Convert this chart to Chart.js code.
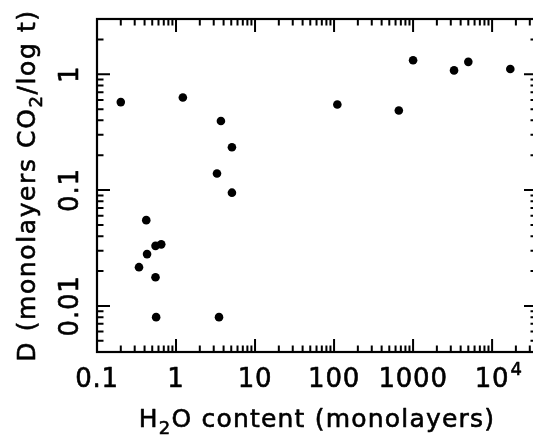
<!DOCTYPE html>
<html>
<head>
<meta charset="utf-8">
<script src="https://cdn.jsdelivr.net/npm/chart.js@4/dist/chart.umd.min.js"></script>
<style>
html,body{margin:0;padding:0;background:#fff;overflow:hidden;width:533px;height:436px;}
#wrap{position:absolute;left:0;top:0;width:560px;height:436px;}
</style>
</head>
<body>
<div id="wrap"><canvas id="c" width="560" height="436"></canvas></div>
<script>
// H2O content (monolayers)
const h2oContent = [0.2, 1.22, 3.7, 5.1, 3.3, 5.1, 0.42, 0.55, 0.65, 0.43, 0.34, 0.55, 0.56, 3.5, 110, 660, 1000, 3300, 5000, 17000];
// D (monolayers CO2 / log t)
const dValues = [0.575, 0.63, 0.395, 0.234, 0.139, 0.095, 0.055, 0.033, 0.034, 0.028, 0.0216, 0.0177, 0.008, 0.008, 0.548, 0.487, 1.32, 1.08, 1.28, 1.11];

const xTickValues = [0.1, 1, 10, 100, 1000, 10000];
const xTickLabels = ['0.1', '1', '10', '100', '1000', '10'];
const xTickSuper = ['', '', '', '', '', '4'];
const yTickValues = [0.01, 0.1, 1];
const yTickLabels = ['0.01', '0.1', '1'];

const xTitle = [{t:'H'}, {t:'2', sub:true}, {t:'O content (monolayers)'}];
const yTitle = [{t:'D (monolayers CO'}, {t:'2', sub:true}, {t:'/log t)'}];

const FONT = 'DejaVu Sans';

function txt(ctx, s, x, y) {
  ctx.fillText(s, x, y);
  ctx.strokeText(s, x, y);
}
function richWidth(ctx, segs, size, subSize, spacing) {
  let w = 0;
  for (const s of segs) {
    ctx.font = (s.sub ? subSize : size) + 'px "' + FONT + '"';
    ctx.letterSpacing = spacing + 'px';
    w += ctx.measureText(s.t).width;
  }
  return w;
}
function drawRich(ctx, segs, cx, baseY, size, subSize, spacing) {
  const w = richWidth(ctx, segs, size, subSize, spacing);
  let x = cx - w / 2;
  ctx.textAlign = 'left';
  ctx.textBaseline = 'alphabetic';
  for (const s of segs) {
    ctx.font = (s.sub ? subSize : size) + 'px "' + FONT + '"';
    ctx.letterSpacing = spacing + 'px';
    txt(ctx, s.t, x, baseY + (s.sub ? 7 : 0));
    x += ctx.measureText(s.t).width;
  }
}

function minorValues(min, max) {
  const out = [];
  for (let e = Math.floor(Math.log10(min)) - 1; e <= Math.ceil(Math.log10(max)); e++) {
    for (let m = 1; m <= 9; m++) {
      const v = m * Math.pow(10, e);
      if (v >= min * 0.999 && v <= max * 1.001) out.push({v, major: m === 1});
    }
  }
  return out;
}

const framePlugin = {
  id: 'frame',
  afterDraw(chart) {
    const ctx = chart.ctx;
    const a = chart.chartArea;
    const xs = chart.scales.x, ys = chart.scales.y;
    ctx.save();
    ctx.strokeStyle = '#000';
    ctx.fillStyle = '#000';
    ctx.lineWidth = 2.2;
    ctx.lineCap = 'butt';
    ctx.strokeRect(a.left, a.top, a.right - a.left, a.bottom - a.top);
    const MAJ = 13, MIN = 6.5;
    ctx.lineWidth = 2;
    ctx.beginPath();
    for (const t of minorValues(xs.min, xs.max)) {
      const px = xs.getPixelForValue(t.v);
      const L = t.major ? MAJ : MIN;
      ctx.moveTo(px, a.bottom); ctx.lineTo(px, a.bottom - L);
      ctx.moveTo(px, a.top); ctx.lineTo(px, a.top + L);
    }
    for (const t of minorValues(ys.min, ys.max)) {
      const py = ys.getPixelForValue(t.v);
      const L = t.major ? MAJ : MIN;
      ctx.moveTo(a.left, py); ctx.lineTo(a.left + L, py);
      ctx.moveTo(a.right, py); ctx.lineTo(a.right - L, py);
    }
    ctx.stroke();

    ctx.lineWidth = 0.6;
    ctx.lineJoin = 'round';
    // x tick labels
    ctx.textBaseline = 'alphabetic';
    xTickValues.forEach((v, i) => {
      const px = xs.getPixelForValue(v);
      ctx.font = '26px "' + FONT + '"';
      ctx.letterSpacing = '0.8px';
      ctx.textAlign = 'center';
      txt(ctx, xTickLabels[i], px, 387);
      if (xTickSuper[i]) {
        const w = ctx.measureText(xTickLabels[i]).width;
        ctx.font = '18px "' + FONT + '"';
        ctx.textAlign = 'left';
        txt(ctx, xTickSuper[i], px + w / 2 + 1, 375);
      }
    });
    // y tick labels (rotated)
    yTickValues.forEach((v, i) => {
      const py = ys.getPixelForValue(v);
      ctx.save();
      ctx.translate(78, py);
      ctx.rotate(-Math.PI / 2);
      ctx.font = '26px "' + FONT + '"';
      ctx.letterSpacing = '0.8px';
      ctx.textAlign = 'center';
      txt(ctx, yTickLabels[i], 0, 0);
      ctx.restore();
    });
    // titles
    drawRich(ctx, xTitle, (a.left + a.right) / 2, 427, 25, 18, 1.2);
    ctx.save();
    ctx.translate(35, (a.top + a.bottom) / 2);
    ctx.rotate(-Math.PI / 2);
    drawRich(ctx, yTitle, 0, 0, 25, 18, 1.6);
    ctx.restore();
    ctx.restore();
  }
};

new Chart(document.getElementById('c'), {
  type: 'scatter',
  data: {
    datasets: [{
      data: h2oContent.map((x, i) => ({x, y: dValues[i]})),
      backgroundColor: '#000',
      borderColor: '#000',
      borderWidth: 0,
      pointRadius: 4.3,
      pointHoverRadius: 4.3
    }]
  },
  options: {
    responsive: false,
    animation: false,
    events: [],
    layout: {padding: {left: 97, top: 19, right: 23, bottom: 84}},
    plugins: {legend: {display: false}, tooltip: {enabled: false}},
    scales: {
      x: {type: 'logarithmic', min: 0.1, max: 37000, display: false},
      y: {type: 'logarithmic', min: 0.004, max: 3, display: false}
    }
  },
  plugins: [framePlugin]
});
</script>
</body>
</html>
